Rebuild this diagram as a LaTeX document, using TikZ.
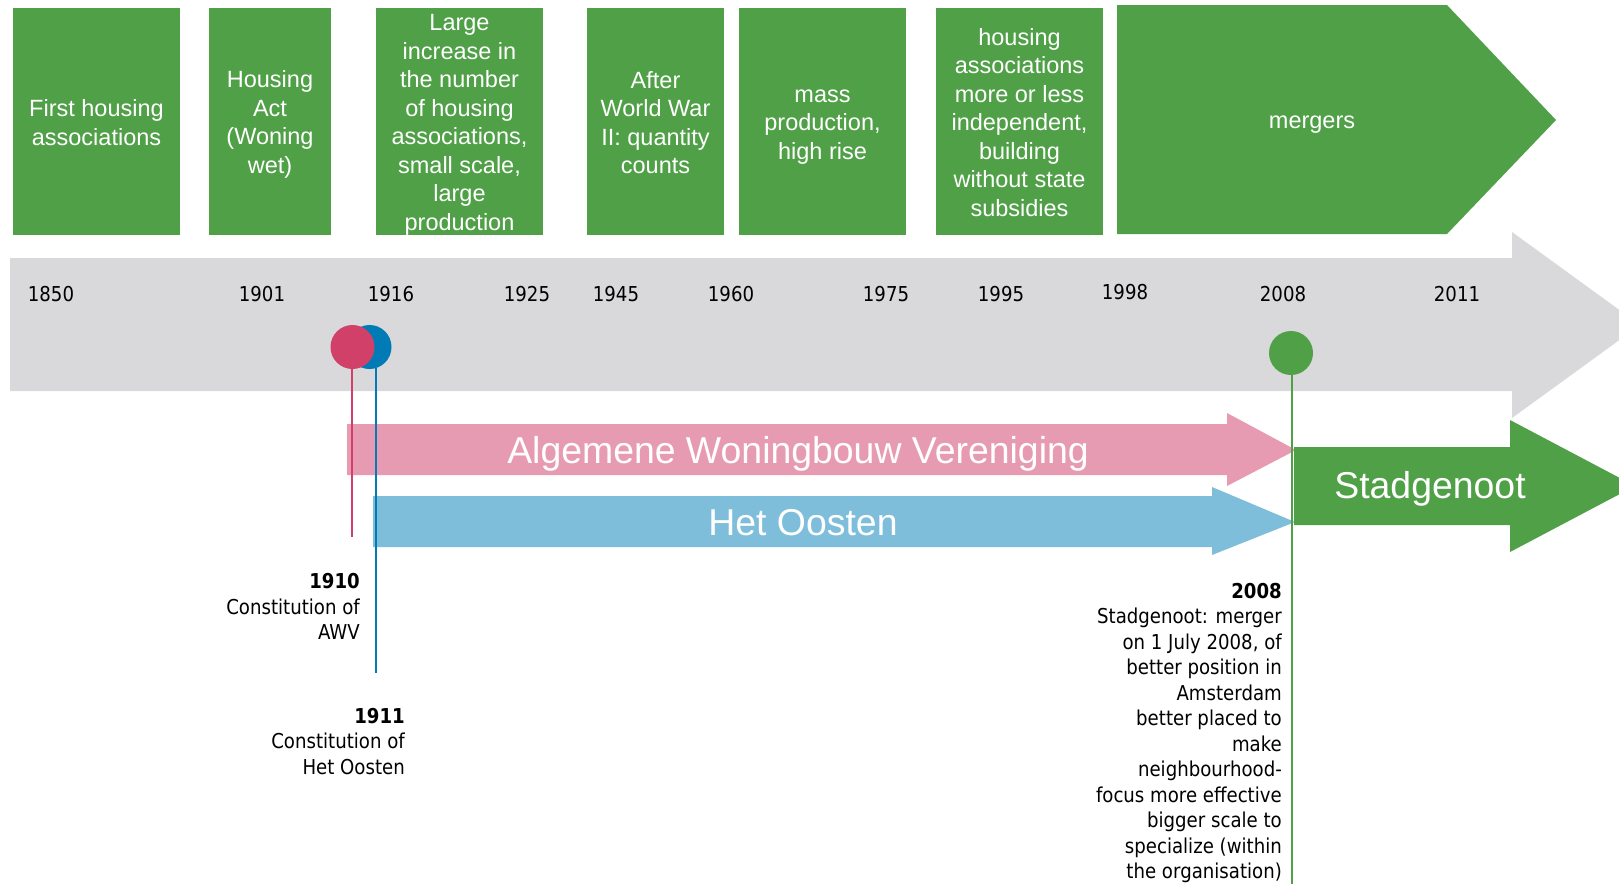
\documentclass[tikz,border=0pt]{standalone}
\usepackage{fontspec}
\setmainfont{Liberation Sans}
\newfontfamily\tahoma[FakeStretch=0.885]{DejaVu Sans}
\usepackage{tikz}
\usetikzlibrary{calc}
\definecolor{phasegreen}{RGB}{79,160,71}
\definecolor{bandgray}{RGB}{217,216,218}
\definecolor{awvpink}{RGB}{231,155,179}
\definecolor{oostblue}{RGB}{126,190,218}
\definecolor{awvdark}{RGB}{208,64,104}
\definecolor{oostdark}{RGB}{0,123,182}
% same top and bottom for every phase text
\newcommand{\ps}{\rule[-4.5pt]{0pt}{27.5pt}}
\tikzset{
    phase/.style={
        fill=phasegreen,
        text=white,
        inner sep=0pt,
        minimum height=227pt,
        align=center,
        font=\fontsize{23.5}{28.5}\selectfont,
    },
    year/.style={
        inner sep=0pt,
        font=\tahoma\fontsize{20.5}{24}\selectfont,
    },
    banner/.style={
        text=white,
        inner sep=0pt,
        text depth=0pt,
        font=\fontsize{37.4}{40}\selectfont,
    },
    milestone/.style={
        circle,
        minimum size=44pt,
        inner sep=0pt,
    },
    event/.style={
        anchor=north east,
        align=right,
        inner sep=0pt,
        font=\tahoma\fontsize{20.5}{25.5}\selectfont,
    },
}

\begin{document}
\begin{tikzpicture}[x=1pt, y=-1pt]
    \clip (0, 0) rectangle (1619, 884);
    \fill[white] (0, 0) rectangle (1619, 884);

    % Phases
    \node[phase, minimum width=167pt] (first) at (96.5, 121.5)
      {\ps First housing\\associations\ps};
    \node[phase, minimum width=122pt] (act) at (270, 121.5)
      {\ps Housing\\Act\\(Woning\\wet)\ps};
    \node[phase, minimum width=167pt] (increase) at (459.5, 121.5)
      {\ps Large\\increase in\\the number\\of housing\\associations,\\small scale,\\large\\production\ps};
    \node[phase, minimum width=137pt] (postwar) at (655.5, 121.5)
      {\ps After\\World War\\II: quantity\\counts\ps};
    \node[phase, minimum width=167pt] (mass) at (822.5, 121.5)
      {\ps mass\\production,\\high rise\ps};
    \node[phase, minimum width=167pt] (independent) at (1019.5, 121.5)
      {\ps housing\\associations\\more or less\\independent,\\building\\without state\\subsidies\ps};
    % Mergers
    \fill[phasegreen]
      (1117, 5) -- (1447, 5) -- (1556, 120) -- (1447, 234) -- (1117, 234) -- cycle;
    \node[phase, fill=none, minimum height=0pt] (mergers) at (1312, 119.5) {\ps mergers\ps};

    % Time line
    \fill[bandgray]
      (10, 258) -- (1512, 258) -- (1512, 232) -- (1640, 325)
      -- (1512, 418) -- (1512, 391) -- (10, 391) -- cycle;
    \foreach \yr/\px in {1850/51, 1901/262, 1916/391, 1925/527, 1945/616,
      1960/731, 1975/886, 1995/1001, 2008/1283, 2011/1457}
      \node[year] (y\yr) at (\px, 294) {\yr};
    \node[year] (y1998) at (1125, 292) {1998};

    % Associations
    \fill[awvpink]
      (347, 424) -- (1227, 424) -- (1227, 413) -- (1296, 450)
      -- (1227, 486) -- (1227, 475) -- (347, 475) -- cycle;
    \node[banner] (awv) at (798, 450) {Algemene Woningbouw Vereniging};
    \fill[oostblue]
      (373, 496) -- (1212, 496) -- (1212, 487) -- (1295, 522)
      -- (1212, 555) -- (1212, 547) -- (373, 547) -- cycle;
    \node[banner] (oosten) at (803, 522) {Het Oosten};
    \fill[phasegreen]
      (1294, 447) -- (1510, 447) -- (1510, 420) -- (1635, 486)
      -- (1510, 552) -- (1510, 525) -- (1294, 525) -- cycle;
    \node[banner] (stadgenoot) at (1430, 485) {Stadgenoot};

    % Milestones
    \node[milestone, fill=oostdark] (oostdot) at (369.5, 347) {};
    \node[milestone, fill=awvdark] (awvdot) at (352.5, 347) {};
    \node[milestone, fill=phasegreen] (mergerdot) at (1291, 353) {};

    \coordinate (awvend) at (352, 537);
    \coordinate (oostend) at (376, 673);
    \coordinate (mergerend) at (1292, 884);
    \draw[awvdark, line width=1.8pt] (awvdot.south -| awvend) -- (awvend);
    \draw[oostdark, line width=1.8pt] (oostdot.-75 -| oostend) -- (oostend);
    \draw[phasegreen, line width=1.8pt] (mergerdot.center -| mergerend) -- (mergerend);

    % Notes
    \node[event] (awvnote) at (360, 573.5)
      {\textbf{1910}\\Constitution of\\AWV};
    \node[event] (oostnote) at (405, 708)
      {\textbf{1911}\\Constitution of\\Het Oosten};
    \node[event] (mergernote) at (1282, 583)
      {\textbf{2008}\\Stadgenoot: merger\\on 1 July 2008, of\\better position in\\Amsterdam\\better placed to\\make\\neighbourhood-\\focus more effective\\bigger scale to\\specialize (within\\the organisation)};

\end{tikzpicture}
\end{document}
